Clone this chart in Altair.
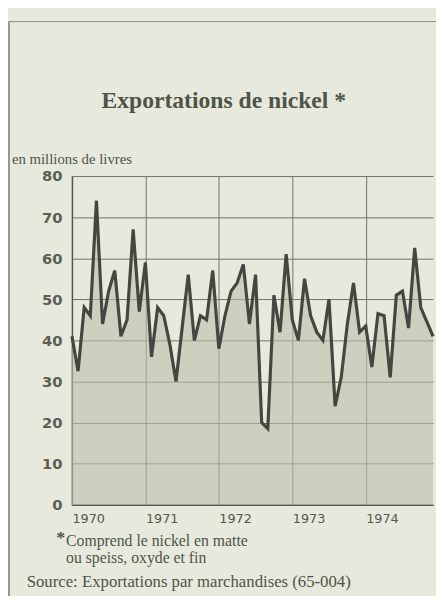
import altair as alt
import pandas as pd

# ---- data ----
START_YEAR = 1970
YEAR_TICKS = [1970, 1971, 1972, 1973, 1974]
EXPORTS = [41, 32.5, 48, 46, 74, 44, 52, 57, 41, 45, 67, 47,
           59, 36, 48, 46, 39, 30, 43, 56, 40, 46, 45, 57,
           38, 46, 52, 54, 58.5, 44, 56, 20, 18.5, 51, 42, 61,
           45, 40, 55, 46, 42, 40, 50, 24, 31, 44, 54, 42,
           43.5, 33.5, 46.5, 46, 31, 51, 52, 43, 62.5, 48, 44.5, 41]
Y_TICKS = [0, 10, 20, 30, 40, 50, 60, 70, 80]
TITLE = ["Exportations de nickel *"]
UNIT = ["en millions de livres"]
NOTE_MARK = ["*"]
NOTE_LINE1 = ["Comprend le nickel en matte"]
NOTE_LINE2 = ["ou speiss, oxyde et fin"]
SOURCE = ["Source: Exportations par marchandises (65-004)"]

df = pd.DataFrame({"month": list(range(len(EXPORTS))), "value": EXPORTS})
year_idx = [(y - START_YEAR) * 12 for y in YEAR_TICKS]

BG = "#e6e9dc"
INK = "#4f5447"
SERIF = "Liberation Serif"

x_enc = alt.X("month:Q",
              scale=alt.Scale(domain=[0, len(EXPORTS) - 1], nice=False, zero=False),
              axis=alt.Axis(values=year_idx, title=None, grid=True, ticks=False,
                            labelExpr=f"'' + ({START_YEAR} + datum.value / 12)",
                            labelAlign="left", labelPadding=8, labelFont="DejaVu Sans",
                            labelFontSize=13, labelColor="#55584d",
                            domainColor="#555", domainWidth=1.5,
                            gridColor="#6f7266", gridWidth=1))
y_enc = alt.Y("value:Q",
              scale=alt.Scale(domain=[0, 80], nice=False),
              axis=alt.Axis(values=Y_TICKS, title=None, grid=True, ticks=False,
                            labelPadding=10, labelFont="DejaVu Sans", labelFontWeight="bold",
                            labelFontSize=15, labelColor="#5c5f55",
                            domainColor="#555", domainWidth=1.5,
                            gridColor="#6f7266", gridWidth=1))

area = alt.Chart(df).mark_area(color="#bcc0ab", opacity=0.6, interpolate="linear").encode(
    x=x_enc, y=y_enc)
line = alt.Chart(df).mark_line(color="#45463f", strokeWidth=3.2, interpolate="linear").encode(
    x="month:Q", y="value:Q")


def label(lines, x, y, size=17, weight="normal", align="left", font=SERIF, color=INK):
    d = pd.DataFrame({"t": lines})
    return alt.Chart(d).mark_text(align=align, baseline="middle", font=font,
                                  fontSize=size, fontWeight=weight, color=color).encode(
        x=alt.value(x), y=alt.value(y), text="t:N")


one = pd.DataFrame({"k": [0]})
frame_left = alt.Chart(one).mark_rule(color="#7a7d72", strokeWidth=1.5).encode(
    x=alt.value(-64), y=alt.value(-157), y2=alt.value(440))
frame_top = alt.Chart(one).mark_rule(color="#8a8d82", strokeWidth=1).encode(
    x=alt.value(-64), x2=alt.value(380), y=alt.value(-157))

chart = alt.layer(
    area, line,
    label(TITLE, 30, -76, size=24, weight="bold"),
    label(UNIT, -61, -17, size=15),
    label(NOTE_MARK, -16, 368, size=18, weight="bold"),
    label(NOTE_LINE1, -6, 371, size=16),
    label(NOTE_LINE2, -6, 388, size=16),
    label(SOURCE, -46, 413, size=17),
    frame_left, frame_top,
).properties(
    width=367, height=334,
    autosize=alt.AutoSizeParams(type="none"),
    padding={"left": 65, "top": 166, "right": 3, "bottom": 88},
    background=BG,
).configure_view(stroke=None)

chart.save("out.html", embed_options={"renderer": "svg", "actions": False})
